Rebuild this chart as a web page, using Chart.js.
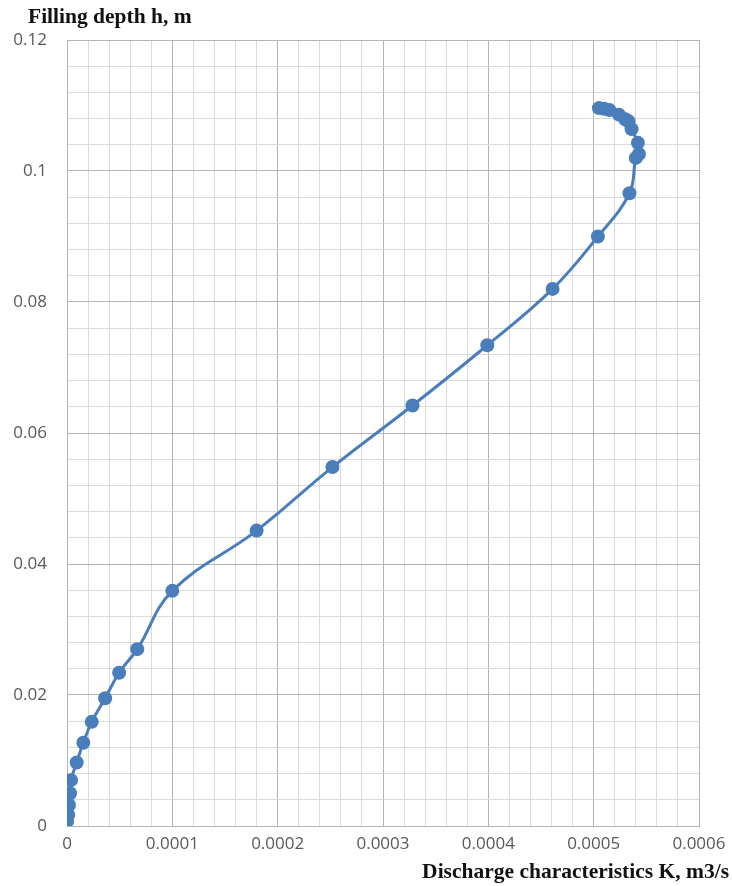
<!DOCTYPE html>
<html lang="en">
<head>
<meta charset="UTF-8">
<title>Filling depth vs discharge characteristics</title>
<script src="https://cdn.jsdelivr.net/npm/chart.js"></script>
<style>
    html, body { margin: 0; padding: 0; background: #ffffff; }
    #wrap { width: 732px; height: 886px; position: relative; }
</style>
</head>
<body>
<div id="wrap"><canvas id="chart"></canvas></div>
<script>
// values: K (m3/s) and h (m)
const dischargeK = [
    0.0000000, 0.0000012, 0.0000019, 0.0000029, 0.0000038, 0.0000092,
    0.0000155, 0.0000235, 0.0000362, 0.0000495, 0.0000667, 0.0001000,
    0.0001800, 0.0002520, 0.0003280, 0.0003990, 0.0004610, 0.0005040,
    0.0005340, 0.0005400, 0.0005430, 0.0005420, 0.0005360, 0.0005330,
    0.0005300, 0.0005240, 0.0005150, 0.0005100, 0.0005050
];
const fillingDepth = [
    0.0007, 0.0017, 0.0032, 0.0050, 0.0070, 0.0097,
    0.0127, 0.0159, 0.0195, 0.0234, 0.0270, 0.0359,
    0.0451, 0.0548, 0.0642, 0.0734, 0.0820, 0.0900,
    0.0966, 0.1020, 0.1026, 0.1043, 0.1064, 0.1076,
    0.1079, 0.1086, 0.1093, 0.1095, 0.1096
];
const xTicks = { min: 0, max: 0.0006, step: 0.00002, labelEvery: 5 };
const yTicks = { min: 0, max: 0.12, step: 0.004, labelEvery: 5 };
const yTitle = 'Filling depth h, m';
const xTitle = 'Discharge characteristics K, m3/s';

const points = dischargeK.map((k, i) => ({ x: k, y: fillingDepth[i] }));

const MAJOR = '#b4b4b4';
const MINOR = '#dadada';
const BLUE = '#4a7ebb';
const TICK_FONT = { family: '"Open Sans", "DejaVu Sans", sans-serif', size: 17 };

// axis titles drawn where the reference has them
const axisTitles = {
    id: 'axisTitles',
    afterDraw(chart) {
        const ctx = chart.ctx;
        ctx.save();
        ctx.fillStyle = '#111111';
        ctx.font = 'bold 21.5px "Liberation Serif", "DejaVu Serif", serif';
        ctx.textBaseline = 'middle';
        ctx.textAlign = 'left';
        ctx.fillText(yTitle, 28, 17);
        ctx.textAlign = 'right';
        ctx.fillText(xTitle, 729, 872);
        ctx.restore();
    }
};

const fmt = v => String(Number(v.toFixed(6)));

new Chart(document.getElementById('chart'), {
    type: 'scatter',
    data: {
        datasets: [{
            data: points,
            showLine: true,
            borderColor: BLUE,
            backgroundColor: BLUE,
            borderWidth: 3,
            pointRadius: 7,
            pointBorderWidth: 0,
            tension: 0.4
        }]
    },
    options: {
        responsive: true,
        maintainAspectRatio: false,
        animation: false,
        layout: { padding: { top: 40, right: 33, left: 0, bottom: 0 } },
        plugins: { legend: { display: false }, tooltip: { enabled: false } },
        scales: {
            x: {
                type: 'linear',
                min: xTicks.min, max: xTicks.max,
                afterFit: s => { s.height = 60; s.paddingRight = 0; },
                border: { color: MAJOR, width: 1 },
                grid: {
                    drawTicks: false,
                    color: c => c.index % xTicks.labelEvery === 0 ? MAJOR : MINOR
                },
                ticks: {
                    stepSize: xTicks.step,
                    autoSkip: false,
                    maxRotation: 0,
                    padding: 8,
                    color: '#595959',
                    font: TICK_FONT,
                    callback: (v, i) => i % xTicks.labelEvery === 0 ? fmt(v) : ''
                }
            },
            y: {
                type: 'linear',
                min: yTicks.min, max: yTicks.max,
                afterFit: s => { s.width = 67; },
                border: { color: MAJOR, width: 1 },
                grid: {
                    drawTicks: false,
                    color: c => c.index % yTicks.labelEvery === 0 ? MAJOR : MINOR
                },
                ticks: {
                    stepSize: yTicks.step,
                    autoSkip: false,
                    padding: 20,
                    color: '#595959',
                    font: TICK_FONT,
                    callback: (v, i) => i % yTicks.labelEvery === 0 ? fmt(v) : ''
                }
            }
        }
    },
    plugins: [axisTitles]
});
</script>
</body>
</html>
